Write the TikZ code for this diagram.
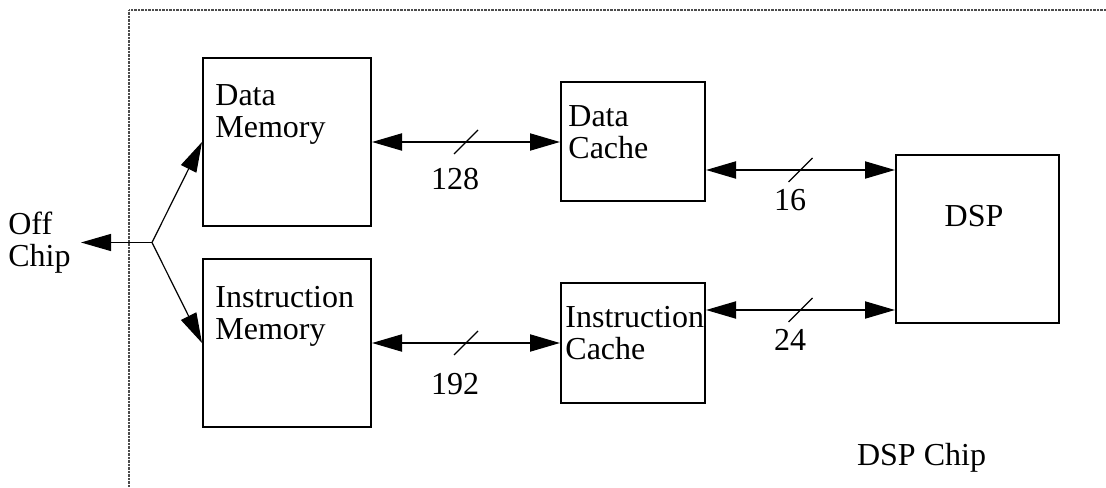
\documentclass[tikz,border=0pt]{standalone}
\usepackage{fontspec}
\setmainfont{Liberation Serif}
\usepackage{tikz}
\usetikzlibrary{arrows.meta,positioning,calc}
\tikzstyle{block} = [rectangle, draw, line width=1pt, inner sep=0pt]
\tikzstyle{memblock} = [block, minimum width=84pt, minimum height=84pt]
\tikzstyle{cacheblock} = [block, minimum width=72pt, minimum height=59.5pt]
\tikzstyle{dspblock} = [block, minimum width=81.5pt, minimum height=84pt]
\tikzstyle{boxtext} = [anchor=base west, align=left, inner sep=0pt]
\tikzstyle{bus} = [draw, {Triangle[length=15pt,width=8.5pt]}-{Triangle[length=15pt,width=8.5pt]}, line width=1pt]
\tikzstyle{feed} = [draw, -{Triangle[length=15pt,width=8.5pt]}, line width=0.6pt]
\tikzstyle{slash} = [draw, line width=0.6pt]
\tikzstyle{chipframe} = [draw=black!70, line width=0.6pt, dash pattern=on 0.4pt off 0.3pt]

\begin{document}
\begin{tikzpicture}[font=\fontsize{16pt}{16pt}\selectfont]
			\useasboundingbox (0,0) rectangle (553pt,243.5pt);
			% chip outline
			\draw [chipframe] (553pt,238.5pt) -- (64.5pt,238.5pt) -- (64.5pt,0pt);
			% Place nodes
			\node [memblock] (dataMemory) at (143.5pt,172.5pt) {};
			\node [memblock, below of=dataMemory, node distance=100.5pt] (instrMemory) {};
			\node [cacheblock, right of=dataMemory, node distance=173pt] (dataCache) {};
			\node [cacheblock, right of=instrMemory, node distance=173pt] (instrCache) {};
			\node [dspblock, right of=dataCache, node distance=172.25pt, yshift=-48.75pt] (dsp) {};
			% box texts (base is the last line)
			\node [boxtext] (dataMemoryText) at ([xshift=6.5pt,yshift=-40.5pt]dataMemory.north west) {Data\\Memory};
			\node [boxtext] (instrMemoryText) at ([xshift=6.5pt,yshift=-40.5pt]instrMemory.north west) {Instruction\\Memory};
			\node [boxtext] (dataCacheText) at ([xshift=4pt,yshift=-38.5pt]dataCache.north west) {Data\\Cache};
			\node [boxtext] (instrCacheText) at ([xshift=2.5pt,yshift=-38.5pt]instrCache.north west) {Instruction\\Cache};
			\node [anchor=base] (dspText) at ([xshift=-1.75pt,yshift=-36pt]dsp.north) {DSP};
			\node [anchor=base west] (chipText) at (425pt,11pt) {DSP Chip};
			% off chip
			\coordinate (junction) at ($(dataMemory.west)!0.5!(instrMemory.west)+(-25pt,0)$);
			\node [align=left, inner xsep=5pt, inner ysep=0pt, left=35.5pt of junction] (offChip) {Off\\Chip};
			\path [feed] (junction) -- (dataMemory.west);
			\path [feed] (junction) -- (instrMemory.west);
			\path [feed] (junction) -- (offChip.east);
			% memory to cache buses
			\path [bus] (dataMemory.east) -- coordinate[midway] (bus128) (dataCache.west);
			\path [slash] ([shift={(-6pt,-6pt)}]bus128) -- ([shift={(6pt,6pt)}]bus128);
			\node (width128) at ([shift={(-5.5pt,-18.5pt)}]bus128) {128};
			\path [bus] (instrMemory.east) -- coordinate[midway] (bus192) (instrCache.west);
			\path [slash] ([shift={(-6pt,-6pt)}]bus192) -- ([shift={(6pt,6pt)}]bus192);
			\node (width192) at ([shift={(-5.5pt,-20.5pt)}]bus192) {192};
			% cache to dsp buses
			\coordinate (dataCacheOut) at ([yshift=-14pt]dataCache.east);
			\path [bus] (dataCacheOut) -- coordinate[midway] (bus16) (dataCacheOut -| dsp.west);
			\path [slash] ([shift={(-6pt,-6pt)}]bus16) -- ([shift={(6pt,6pt)}]bus16);
			\node (width16) at ([shift={(-5.25pt,-15.25pt)}]bus16) {16};
			\coordinate (instrCacheOut) at ([yshift=16.5pt]instrCache.east);
			\path [bus] (instrCacheOut) -- coordinate[midway] (bus24) (instrCacheOut -| dsp.west);
			\path [slash] ([shift={(-6pt,-6pt)}]bus24) -- ([shift={(6pt,6pt)}]bus24);
			\node (width24) at ([shift={(-5.25pt,-15pt)}]bus24) {24};
	\end{tikzpicture}
\end{document}
